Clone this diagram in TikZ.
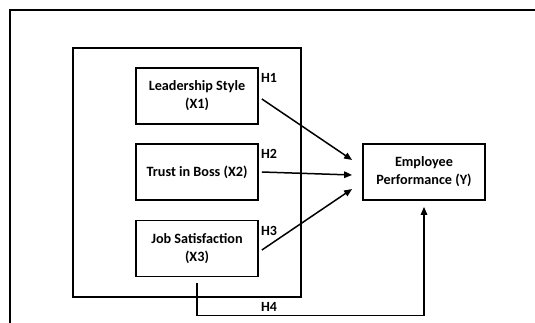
\documentclass[tikz,border=0pt]{standalone}
\usepackage{fontspec}
\setmainfont{Carlito}
\usetikzlibrary{arrows.meta}
\begin{document}
\begin{tikzpicture}[x=1pt,y=-1pt,
  frame/.style={line width=1.8pt},
  vbox/.style={draw,line width=1.8pt,minimum width=122pt,minimum height=56pt,align=center,inner sep=0pt,
    font=\bfseries\fontsize{14.2}{18}\selectfont},
  hlab/.style={font=\bfseries\fontsize{14}{16}\selectfont,inner sep=0pt},
  arr/.style={line width=1.5pt,-{Triangle[length=8pt,width=6.5pt]}}]
\useasboundingbox (0,0) rectangle (535,323);
\draw[frame] (10,330) -- (10,10) -- (540,10);
\draw[frame] (73,48) rectangle (301,297);
\node[vbox] (x1) at (197,96) {Leadership Style\\(X1)};
\node[vbox] (x2) at (197,172) {Trust in Boss (X2)};
\node[vbox] (x3) at (197,248.5) {Job Satisfaction\\(X3)};
\node[vbox] (y) at (424,172) {Employee\\Performance (Y)};
\node[hlab] (h1) at (269,78) {H1};
\node[hlab] (h2) at (269,154) {H2};
\node[hlab] (h3) at (269,231) {H3};
\node[hlab] (h4) at (269,307) {H4};
\draw[arr] ([xshift=3pt,yshift=-3pt]x1.east) -- ([xshift=-10pt,yshift=12pt]y.west);
\draw[arr] ([xshift=3pt]x2.east) -- ([xshift=-10pt,yshift=-3pt]y.west);
\draw[arr] ([xshift=3pt,yshift=-1.5pt]x3.east) -- ([xshift=-10pt,yshift=-17pt]y.west);
\coordinate (s) at ([yshift=-6pt]x3.south);
\coordinate (yt) at ([yshift=-6pt]y.south);
\draw[arr] (s) -- ++(0,32) -| (yt);
\end{tikzpicture}
\end{document}
